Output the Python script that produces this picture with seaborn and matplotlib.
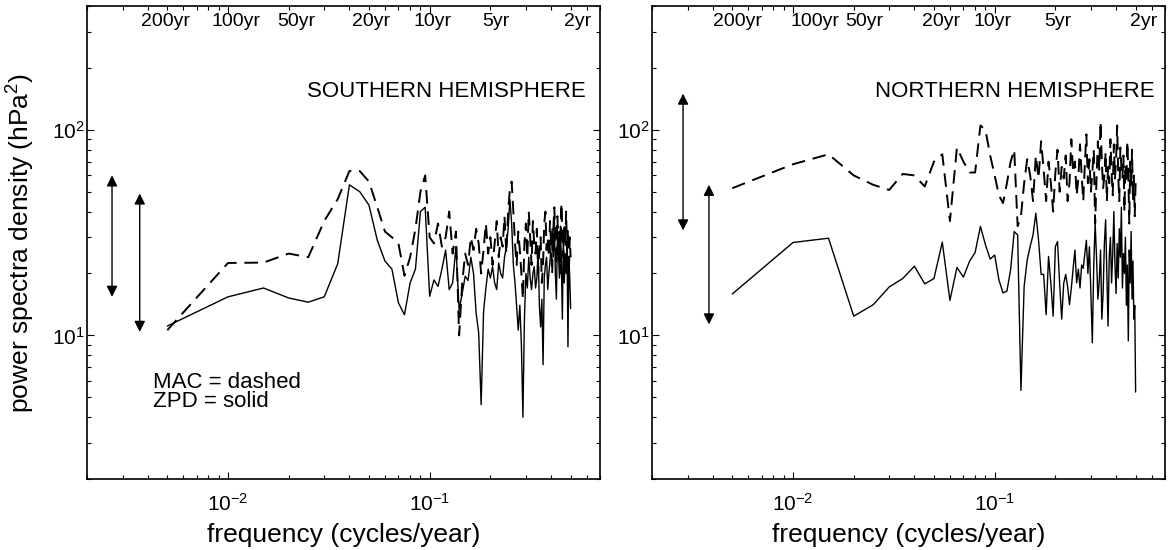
import numpy as np
import pandas as pd
import seaborn as sns
import matplotlib
matplotlib.use("Agg")
import matplotlib.pyplot as plt

# frequency grid of the spectra: k / 200 cycles per year, k = 1..100
n_years = 200
freq = np.arange(1, 101) / n_years

# southern hemisphere, power spectra density (hPa^2)
sh_mac = [10.6, 22.5, 22.6, 25, 24, 36, 46, 63, 63, 56,
          42, 32, 30, 28, 19.5, 24, 33, 50, 60, 30,
          28, 35, 27, 30, 40, 25, 32, 10, 18, 25,
          22, 30, 26, 33, 28, 20, 26, 35, 25, 30,
          22, 28, 36, 24, 30, 27, 38, 25, 40, 52,
          56, 40, 28, 22, 32, 26, 20, 15, 28, 35,
          24, 40, 30, 22, 36, 28, 25, 33, 20, 26,
          30, 18, 22, 35, 40, 26, 30, 24, 36, 28,
          20, 32, 42, 30, 22, 38, 26, 32, 20, 44,
          30, 24, 35, 27, 40, 25, 33, 20, 30, 24]
sh_zpd = [11.1, 15.4, 17.0, 15.2, 14.5, 15.4, 22.3, 54, 50, 43,
          29, 23, 21, 14.4, 12.6, 18, 21, 40, 42, 15.5,
          18.6, 17.3, 21, 26, 16.7, 18, 27, 13.3, 16, 19.4,
          18.5, 24, 20, 12.8, 10.3, 4.6, 13, 17, 21, 19,
          21.6, 18, 16.7, 22.5, 20, 19, 24, 27, 33, 46,
          35, 22, 18, 13.8, 10.6, 14, 9, 4.0, 12, 20,
          17, 24, 19, 16.7, 20, 21.6, 17, 19, 26, 14,
          11, 15, 7.2, 19, 22, 24, 16.7, 20, 23, 27,
          33, 24, 38, 20, 15, 30, 26, 19, 34, 22,
          12, 30, 18, 25, 20, 28, 8.8, 24, 19, 13.5]

# northern hemisphere
nh_mac = [52, 68, 76, 60, 54, 51, 61, 60, 53, 70,
          76, 36, 82, 70, 62, 62, 105, 100, 75, 60,
          48, 44, 55, 70, 80, 34, 38, 55, 72, 60,
          45, 75, 58, 88, 64, 45, 70, 55, 40, 62,
          80, 50, 66, 58, 75, 45, 55, 90, 62, 70,
          48, 58, 85, 60, 45, 68, 95, 55, 72, 50,
          62, 80, 35, 58, 88, 64, 110, 70, 52, 60,
          78, 45, 66, 55, 90, 62, 48, 85, 58, 72,
          105, 60, 45, 82, 66, 58, 75, 40, 68, 55,
          88, 62, 35, 70, 52, 80, 45, 60, 38, 55]
nh_zpd = [15.9, 28.3, 29.7, 12.4, 14.1, 17.2, 18.9, 21.7, 17.8, 18.9,
          28.4, 14.8, 21.4, 19.2, 22.9, 25.3, 33.9, 27.6, 23.5, 24.6,
          18.6, 16.1, 16.4, 20.9, 32, 30.8, 5.4, 17.3, 23.3, 27.1,
          30.8, 39.3, 29.2, 19.8, 19.8, 12.6, 24.2, 17.9, 12.4, 27,
          28.6, 17.9, 12, 17.9, 19.8, 17.3, 14.1, 17, 21.2, 26,
          18, 21, 17, 22, 21.2, 25, 29, 20, 27, 16,
          9.2, 22, 35, 24, 15, 18.3, 26, 12, 16, 28,
          36.5, 20, 11.1, 24, 30, 18, 25, 40, 22, 16,
          28, 19, 33, 24, 42, 17, 25, 20, 30, 14,
          22, 9.4, 26, 18, 32, 15, 23, 12, 14, 5.3]

# period labels along the top and where they sit (frequency) in each panel
period_labels = ["200yr", "100yr", "50yr", "20yr", "10yr", "5yr", "2yr"]
sh_label_pos = [0.0049, 0.0109, 0.0219, 0.0513, 0.103, 0.212, 0.54]
nh_label_pos = [0.0053, 0.0128, 0.0227, 0.054, 0.098, 0.205, 0.55]

# double arrows (frequency, low, high)
sh_arrows = [(0.00266, 15.4, 60), (0.00365, 10.4, 49)]
nh_arrows = [(0.00285, 32.4, 150), (0.00383, 11.3, 54)]

sns.set_theme(style="ticks")
plt.rcParams["font.family"] = ["Liberation Sans", "DejaVu Sans"]
plt.rcParams["mathtext.fontset"] = "custom"
plt.rcParams["mathtext.rm"] = "Liberation Sans"
plt.rcParams["mathtext.default"] = "regular"
plt.rcParams["axes.linewidth"] = 1.2
plt.rcParams["text.color"] = "black"
plt.rcParams["axes.labelcolor"] = "black"
plt.rcParams["xtick.color"] = "black"
plt.rcParams["ytick.color"] = "black"

fig = plt.figure(figsize=(11.7, 5.5), dpi=100)
ax1 = fig.add_axes([0.0744, 0.129, 0.4385, 0.86])
ax2 = fig.add_axes([0.5573, 0.129, 0.4385, 0.86])

panels = [(ax1, sh_mac, sh_zpd, sh_arrows, sh_label_pos, "SOUTHERN HEMISPHERE", 0.972),
          (ax2, nh_mac, nh_zpd, nh_arrows, nh_label_pos, "NORTHERN HEMISPHERE", 0.98)]

for ax, mac, zpd, arrows, label_pos, title, tx in panels:
    df_mac = pd.DataFrame({"freq": freq, "psd": mac})
    df_zpd = pd.DataFrame({"freq": freq, "psd": zpd})
    sns.lineplot(data=df_mac, x="freq", y="psd", ax=ax, color="black",
                 lw=1.4, linestyle=(0, (7, 4)), estimator=None, sort=False)
    sns.lineplot(data=df_zpd, x="freq", y="psd", ax=ax, color="black",
                 lw=1.0, estimator=None, sort=False)
    ax.set_xscale("log")
    ax.set_yscale("log")
    ax.set_xlim(0.002, 0.7)
    ax.set_ylim(2, 400)
    ax.set_xlabel("frequency (cycles/year)", fontsize=19, labelpad=6)
    ax.set_ylabel("")
    ax.tick_params(which="both", direction="in", top=True, right=True,
                   labelsize=15, width=0.8)
    ax.tick_params(axis="x", which="major", pad=10)
    ax.tick_params(axis="y", which="major", pad=1.5)
    ax.tick_params(which="major", length=5)
    ax.tick_params(which="minor", length=3)
    for s in ax.spines.values():
        s.set_color("black")

    # period labels
    for lab, f in zip(period_labels, label_pos):
        ax.text(f, 0.967, lab, transform=ax.get_xaxis_transform(),
                ha="center", va="center", fontsize=14)
    ax.text(tx, 0.82, title, transform=ax.transAxes, ha="right",
            va="center", fontsize=16)

    for x, lo, hi in arrows:
        ax.annotate("", xy=(x, lo), xytext=(x, hi),
                    arrowprops=dict(arrowstyle="<|-|>", color="black",
                                    lw=1.0, mutation_scale=16,
                                    shrinkA=0, shrinkB=0))

ax1.set_ylabel("power spectra density (hPa$^2$)", fontsize=19, labelpad=11)
ax1.text(0.129, 0.205, "MAC = dashed", transform=ax1.transAxes,
         ha="left", va="center", fontsize=16)
ax1.text(0.129, 0.163, "ZPD = solid", transform=ax1.transAxes,
         ha="left", va="center", fontsize=16)

fig.savefig("out.png", dpi=100)
